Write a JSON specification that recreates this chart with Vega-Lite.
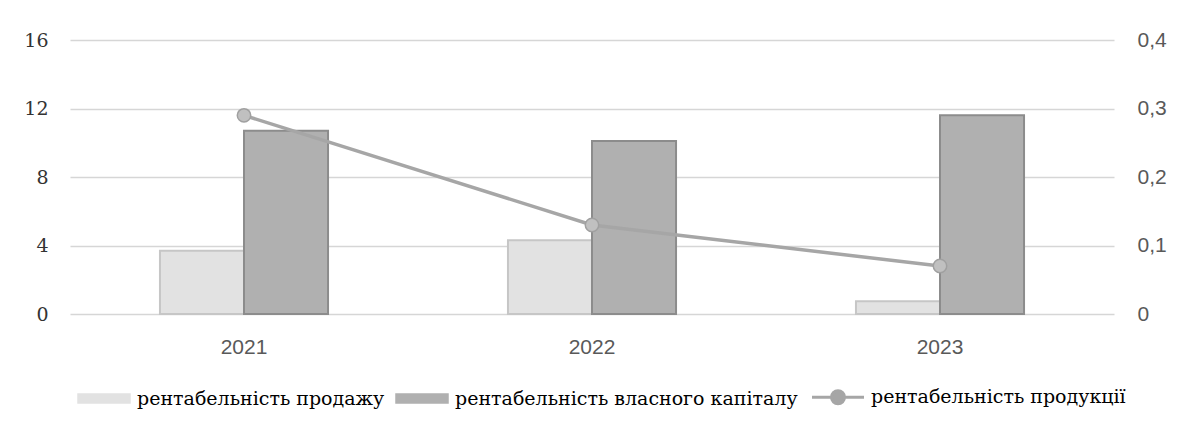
{
  "$schema": "https://vega.github.io/schema/vega-lite/v6.json",
  "width": 1044,
  "height": 274,
  "autosize": "none",
  "padding": {"left": 70, "top": 40, "right": 70, "bottom": 119},
  "background": "#ffffff",
  "config": {
    "view": {"stroke": null},
    "axis": {"domain": false, "ticks": false, "title": null}
  },
  "datasets": {
    "bars": [
      {"year": "2021", "series": "рентабельність продажу", "value": 3.7},
      {"year": "2021", "series": "рентабельність власного капіталу", "value": 10.7},
      {"year": "2022", "series": "рентабельність продажу", "value": 4.3},
      {"year": "2022", "series": "рентабельність власного капіталу", "value": 10.1},
      {"year": "2023", "series": "рентабельність продажу", "value": 0.75},
      {"year": "2023", "series": "рентабельність власного капіталу", "value": 11.6}
    ],
    "line": [
      {"year": "2021", "value": 0.29},
      {"year": "2022", "value": 0.13},
      {"year": "2023", "value": 0.07}
    ]
  },
  "layer": [
    {
      "data": {"name": "bars"},
      "mark": {"type": "bar", "strokeWidth": 2},
      "encoding": {
        "x": {
          "field": "year",
          "type": "nominal",
          "scale": {"paddingInner": 0.517, "paddingOuter": 0.2585},
          "axis": {
            "labelAngle": 0,
            "labelFont": "Liberation Sans",
            "labelFontSize": 21,
            "labelColor": "#595959",
            "labelPadding": 22,
            "grid": false
          }
        },
        "xOffset": {
          "field": "series",
          "type": "nominal",
          "scale": {
            "domain": ["рентабельність продажу", "рентабельність власного капіталу"],
            "paddingInner": 0,
            "paddingOuter": 0
          }
        },
        "y": {
          "field": "value",
          "type": "quantitative",
          "scale": {"domain": [0, 16], "nice": false},
          "axis": {
            "values": [0, 4, 8, 12, 16],
            "grid": true,
            "gridColor": "#d6d6d6",
            "gridWidth": 1.5,
            "labelFont": "DejaVu Serif",
            "labelFontSize": 19,
            "labelColor": "#333333",
            "labelPadding": 22
          }
        },
        "color": {
          "field": "series",
          "type": "nominal",
          "scale": {
            "domain": ["рентабельність продажу", "рентабельність власного капіталу", "рентабельність продукції"],
            "range": ["#e2e2e2", "#b0b0b0", "#a6a6a6"]
          },
          "legend": {
            "orient": "none",
            "legendX": 7,
            "legendY": 330,
            "direction": "horizontal",
            "title": null,
            "symbolSize": 2704,
            "symbolOpacity": 1,
            "labelFont": "DejaVu Serif",
            "labelFontSize": 19,
            "labelColor": "#000000",
            "labelOffset": 6,
            "labelLimit": 500,
            "columnPadding": 8,
            "encode": {
              "symbols": {
                "update": {
                  "shape": {"signal": "datum.value === 'рентабельність продукції' ? 'M-1,0H-0.25M0.25,0H1M-0.25,0A0.25,0.25 0 1,1 0.25,0A0.25,0.25 0 1,1 -0.25,0Z' : 'M-1,-0.17H1V0.17H-1Z'"},
                  "fill": {"signal": "datum.value === 'рентабельність продукції' ? '#c0c0c0' : datum.value === 'рентабельність продажу' ? '#e2e2e2' : '#b0b0b0'"},
                  "stroke": {"signal": "datum.value === 'рентабельність продукції' ? '#a6a6a6' : datum.value === 'рентабельність продажу' ? '#c6c6c6' : '#8c8c8c'"},
                  "strokeWidth": {"signal": "(datum.value === 'рентабельність продукції' ? 3 : 1.5)"},
                  "opacity": {"value": 1}
                }
              }
            }
          }
        },
        "stroke": {
          "field": "series",
          "type": "nominal",
          "scale": {
            "domain": ["рентабельність продажу", "рентабельність власного капіталу"],
            "range": ["#c6c6c6", "#8c8c8c"]
          },
          "legend": null
        }
      }
    },
    {
      "data": {"name": "line"},
      "encoding": {
        "x": {"field": "year", "type": "nominal"},
        "y": {
          "field": "value",
          "type": "quantitative",
          "scale": {"domain": [0, 0.4], "nice": false},
          "axis": {
            "orient": "right",
            "values": [0, 0.1, 0.2, 0.3, 0.4],
            "grid": false,
            "labelExpr": "replace(format(datum.value, '.1~f'), '.', ',')",
            "labelFont": "Liberation Sans",
            "labelFontSize": 21,
            "labelColor": "#595959",
            "labelPadding": 23
          }
        }
      },
      "layer": [
        {
          "mark": {"type": "line", "strokeWidth": 3.5},
          "encoding": {
            "color": {"datum": "рентабельність продукції", "type": "nominal"}
          }
        },
        {
          "mark": {"type": "point", "filled": true, "size": 180, "fill": "#c0c0c0", "stroke": "#a0a0a0", "strokeWidth": 1.5, "opacity": 1},
          "encoding": {}
        }
      ]
    }
  ],
  "resolve": {"scale": {"y": "independent"}}
}
